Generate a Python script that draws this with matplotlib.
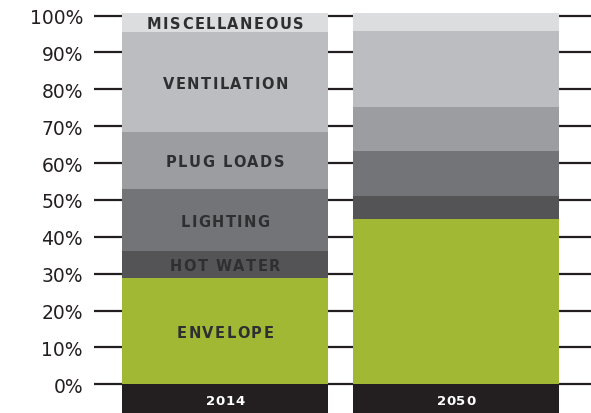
import numpy as np
import matplotlib
matplotlib.use("Agg")
import matplotlib.pyplot as plt
from matplotlib.font_manager import FontProperties
from matplotlib.textpath import text_to_path
from matplotlib.transforms import offset_copy

years = ["2014", "2050"]
categories = ["ENVELOPE", "HOT WATER", "LIGHTING", "PLUG LOADS", "VENTILATION", "MISCELLANEOUS"]
share_2014 = [28.8, 7.4, 16.8, 15.4, 27.2, 5.1]
share_2050 = [44.7, 6.3, 12.4, 11.9, 20.6, 4.8]
colors = ["#a0b834", "#545457", "#737478", "#9c9da1", "#bcbdc1", "#dcdddf"]
yticks = list(range(0, 101, 10))

ink = "#231f20"
label_col = "#2f2f31"


def tracked_text(ax, x, y, s, size, tracking, color):
    """Centered caps label with extra letter spacing (tracking in points)."""
    fp = FontProperties(family="DejaVu Sans", weight="bold", size=size)
    widths = [text_to_path.get_text_width_height_descent(ch, fp, ismath=False)[0] for ch in s]
    total = sum(widths) + tracking * (len(s) - 1)
    off = -total / 2
    for ch, w in zip(s, widths):
        tr = offset_copy(ax.transData, fig=ax.figure, x=off, y=0, units="points")
        ax.text(x, y, ch, transform=tr, ha="left", va="center_baseline",
                fontproperties=fp, color=color, zorder=3)
        off += w + tracking


fig = plt.figure(figsize=(5.91, 4.14), dpi=100)
ax = fig.add_axes([94 / 591, 0, 1 - 94 / 591, 1])

x = np.arange(len(years))
width = 0.892
data = np.array([share_2014, share_2050])

# tick stubs: horizontal rules behind the bars, visible only in the gaps
for t in yticks:
    ax.axhline(t, color=ink, lw=1.6, zorder=0)

bottom = np.zeros(len(years))
for i, cat in enumerate(categories):
    ax.bar(x, data[:, i], width, bottom=bottom, color=colors[i], zorder=2, linewidth=0)
    tracked_text(ax, x[0], bottom[0] + data[0, i] / 2, cat, 10.5, 1.1, label_col)
    bottom += data[:, i]

# dark year band under each bar
band = 7.8
ax.bar(x, [-band] * len(years), width, bottom=0, color=ink, zorder=2, linewidth=0)
for xi, yr in zip(x, years):
    tracked_text(ax, xi, -band / 2 - 0.2, yr, 9.5, 0.5, "white")

ax.set_xlim(-0.567, 1.584)
ax.set_ylim(-band, 104.5)
ax.set_yticks(yticks)
ax.set_yticklabels([f"{t}%" for t in yticks], fontsize=13.5, color=ink)
ax.tick_params(axis="y", length=0, pad=8)
ax.set_xticks([])
for s in ax.spines.values():
    s.set_visible(False)

fig.savefig("out.png", dpi=100)
